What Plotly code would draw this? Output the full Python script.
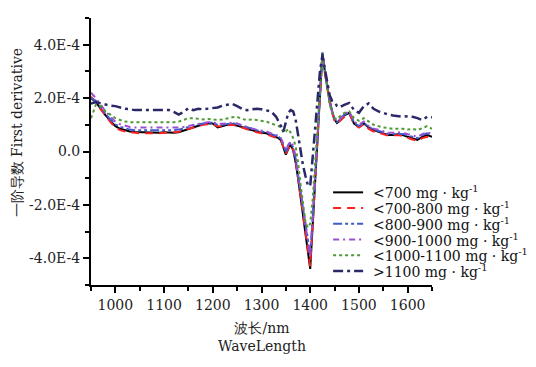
import plotly.graph_objects as go
import numpy as np

# Wavelength sampling grid (nm)
wavelength = list(range(950, 1321, 10)) + list(range(1330, 1461, 5)) + list(range(1470, 1651, 10))

# First-derivative values in units of 1E-4
lt700 = [2.0,1.85,1.6,1.35,1.15,0.95,0.85,0.8,0.75,0.73,0.72,0.72,0.70,0.69,0.70,0.72,0.70,0.70,0.72,0.78,0.85,0.92,0.98,1.02,1.05,1.05,0.90,0.95,1.0,1.02,0.98,0.92,0.85,0.80,0.75,0.70,0.68,0.60,
         0.55,0.5,0.42,0.1,-0.12,0.1,0.25,0.05,-0.4,-1.0,-1.7,-2.4,-3.1,-3.8,-4.4,-2.8,-1.2,0.5,2.1,3.7,3.0,2.4,1.9,1.5,1.2,1.07,1.15,
         1.35,1.45,1.05,0.92,1.05,0.9,0.8,0.75,0.68,0.62,0.62,0.65,0.62,0.55,0.5,0.43,0.55,0.62,0.55]
r700_800 = [2.05,1.85,1.58,1.32,1.1,0.9,0.8,0.75,0.72,0.7,0.68,0.68,0.68,0.66,0.68,0.7,0.7,0.72,0.74,0.8,0.86,0.9,0.95,1.0,1.02,1.02,0.95,0.95,0.98,1.0,0.96,0.9,0.82,0.76,0.72,0.68,0.65,0.58,
            0.52,0.48,0.4,0.12,-0.08,0.12,0.25,0.05,-0.35,-1.0,-1.65,-2.35,-3.05,-3.7,-4.3,-2.75,-1.15,0.5,2.1,3.65,2.95,2.35,1.85,1.45,1.15,1.05,1.12,
            1.3,1.42,1.02,0.9,1.02,0.85,0.75,0.7,0.65,0.6,0.6,0.62,0.58,0.5,0.45,0.4,0.5,0.55,0.48]
r800_900 = [2.0,1.9,1.65,1.4,1.2,1.02,0.92,0.86,0.82,0.8,0.8,0.8,0.78,0.78,0.78,0.8,0.8,0.8,0.82,0.86,0.92,0.98,1.02,1.05,1.08,1.08,1.0,1.0,1.03,1.06,1.02,0.96,0.9,0.84,0.8,0.75,0.72,0.65,
            0.6,0.55,0.48,0.2,0.0,0.2,0.35,0.15,-0.25,-0.9,-1.5,-2.1,-2.75,-3.35,-3.85,-2.5,-0.9,0.7,2.2,3.7,3.05,2.45,1.9,1.5,1.22,1.1,1.18,
            1.38,1.48,1.08,0.95,1.08,0.92,0.82,0.78,0.72,0.66,0.66,0.68,0.66,0.6,0.56,0.5,0.62,0.68,0.6]
r900_1000 = [2.2,2.0,1.75,1.5,1.3,1.12,1.02,0.96,0.92,0.9,0.9,0.9,0.9,0.88,0.88,0.88,0.88,0.88,0.9,0.92,0.96,1.0,1.04,1.08,1.1,1.1,1.04,1.04,1.06,1.08,1.05,0.98,0.92,0.86,0.82,0.78,0.75,0.68,
             0.62,0.58,0.5,0.25,0.05,0.25,0.38,0.2,-0.2,-0.85,-1.5,-2.15,-2.8,-3.4,-3.95,-2.55,-0.95,0.7,2.2,3.65,3.0,2.4,1.9,1.5,1.25,1.12,1.2,
             1.4,1.5,1.12,1.0,1.12,0.95,0.85,0.82,0.76,0.7,0.7,0.72,0.7,0.65,0.6,0.55,0.65,0.72,0.65]
r1000_1100 = [1.25,1.75,1.7,1.5,1.38,1.25,1.18,1.12,1.1,1.1,1.08,1.08,1.1,1.08,1.1,1.1,1.1,1.1,1.12,1.18,1.25,1.25,1.22,1.2,1.22,1.2,1.18,1.2,1.25,1.28,1.3,1.22,1.18,1.2,1.18,1.15,1.12,1.05,
              1.0,0.95,0.9,0.7,0.75,0.85,0.7,0.5,0.2,-0.4,-1.2,-2.0,-2.6,-2.85,-2.7,-1.8,-0.5,1.0,2.4,3.6,3.0,2.3,1.75,1.45,1.25,1.2,1.3,
              1.45,1.5,1.25,1.15,1.25,1.12,1.0,0.95,0.9,0.88,0.85,0.85,0.85,0.82,0.85,0.8,0.88,0.95,0.85]
gt1100 = [1.8,1.85,1.8,1.75,1.72,1.7,1.65,1.6,1.58,1.55,1.55,1.55,1.57,1.56,1.55,1.55,1.55,1.48,1.38,1.48,1.62,1.55,1.6,1.58,1.6,1.62,1.65,1.72,1.75,1.78,1.7,1.6,1.55,1.58,1.6,1.58,1.55,1.5,
          1.3,1.15,0.95,0.75,1.1,1.45,1.55,1.5,1.2,0.6,0.0,-0.5,-0.9,-1.25,-1.3,-0.3,0.8,2.0,3.0,3.6,3.1,2.5,2.1,1.9,1.85,1.7,1.65,
          1.75,1.82,1.55,1.45,1.7,1.8,1.6,1.5,1.45,1.38,1.35,1.32,1.3,1.32,1.3,1.25,1.18,1.3,1.28]

series_names = ["<700 mg · kg<sup>-1</sup>", "<700-800 mg · kg<sup>-1</sup>", "<800-900 mg · kg<sup>-1</sup>",
                "<900-1000 mg · kg<sup>-1</sup>", "<1000-1100 mg · kg<sup>-1</sup>", ">1100 mg · kg<sup>-1</sup>"]
series_values = [lt700, r700_800, r800_900, r900_1000, r1000_1100, gt1100]

y_tick_vals = [-4e-4, -2e-4, 0, 2e-4, 4e-4]
y_tick_text = ["-4.0E-4", "-2.0E-4", "0.0", "2.0E-4", "4.0E-4"]
x_tick_vals = [1000, 1100, 1200, 1300, 1400, 1500, 1600]

styles = [
    dict(color="#000000", width=2, dash="solid"),
    dict(color="#ff2020", width=2, dash="8px,6px"),
    dict(color="#3f5bc9", width=2, dash="9px,3px,3px,3px,3px,3px"),
    dict(color="#9a4fd0", width=2, dash="6px,4px,2px,4px"),
    dict(color="#4f9a35", width=2, dash="dot"),
    dict(color="#2a2868", width=2.5, dash="10px,4px,3px,4px"),
]

font_family = "DejaVu Serif"

fig = go.Figure()
for name, vals, st in zip(series_names, series_values, styles):
    fig.add_trace(go.Scatter(x=wavelength, y=np.array(vals) * 1e-4, mode="lines",
                             name=name, line=st, showlegend=False))

# Compact legend drawn as sample lines + text
legend_rows_y = [0.347, 0.288, 0.229, 0.170, 0.111, 0.052]
shapes = []
annotations = []
for name, st, ly in zip(series_names, styles, legend_rows_y):
    shapes.append(dict(type="line", xref="paper", yref="paper", x0=0.71, x1=0.798, y0=ly, y1=ly,
                       line=dict(color=st["color"], width=st["width"], dash=st["dash"])))
    annotations.append(dict(text=name, xref="paper", yref="paper", x=0.822, y=ly, xanchor="left",
                            yanchor="middle", showarrow=False,
                            font=dict(size=14, family=font_family, color="#111")))

annotations.append(dict(text="一阶导数 First derivative", textangle=-90, xref="paper", yref="paper",
                        x=-0.218, y=0.57, xanchor="center", yanchor="middle", showarrow=False,
                        font=dict(size=14, family=font_family, color="#222")))
annotations.append(dict(text="波长/nm<br>WaveLength", xref="paper", yref="paper",
                        x=0.5, y=-0.195, xanchor="center", yanchor="middle", showarrow=False,
                        font=dict(size=14, family=font_family, color="#222")))

fig.update_layout(
    width=528, height=359,
    margin=dict(l=83, r=104, t=10, b=82, autoexpand=False),
    paper_bgcolor="white", plot_bgcolor="white",
    font=dict(family=font_family, size=14, color="#222"),
    showlegend=False,
    shapes=shapes,
    annotations=annotations,
    xaxis=dict(range=[950, 1650], tickvals=x_tick_vals, showline=True, linecolor="black", linewidth=2,
               ticks="outside", ticklen=6, tickwidth=2, tickcolor="black", showgrid=False, zeroline=False,
               automargin=False,
               minor=dict(dtick=50, tick0=950, ticks="outside", ticklen=4, tickwidth=2, tickcolor="black"),
               tickfont=dict(size=14, family=font_family)),
    yaxis=dict(range=[-5e-4, 5e-4], tickvals=y_tick_vals, ticktext=y_tick_text, showline=True, linecolor="black",
               linewidth=2, ticks="outside", ticklen=6, tickwidth=2, tickcolor="black", showgrid=False, zeroline=False,
               automargin=False,
               minor=dict(dtick=1e-4, tick0=-5e-4, ticks="outside", ticklen=4, tickwidth=2, tickcolor="black"),
               tickfont=dict(size=14, family=font_family)),
)

fig.write_html("out.html")
